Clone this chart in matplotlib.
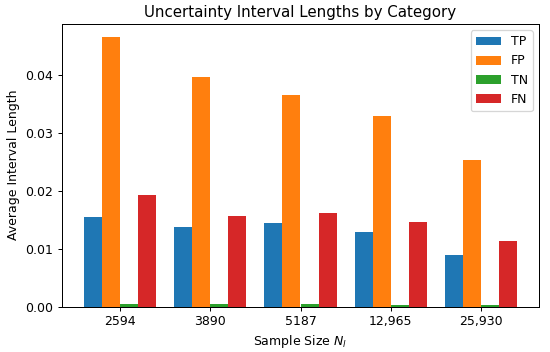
import matplotlib
matplotlib.use("Agg")
import matplotlib.pyplot as plt
import numpy as np

categories = ["2594", "3890", "5187", "12,965", "25,930"]
series_names = ["TP", "FP", "TN", "FN"]
tp = [0.0154, 0.0137, 0.0145, 0.0128, 0.0089]
fp = [0.0465, 0.0396, 0.0366, 0.0329, 0.0254]
tn = [0.0004, 0.0004, 0.0004, 0.0003, 0.0003]
fn = [0.0193, 0.0156, 0.0162, 0.0146, 0.0114]
values = [tp, fp, tn, fn]
colors = ["#1f77b4", "#ff7f0e", "#2ca02c", "#d62728"]

DPI = 90
fig, ax = plt.subplots(figsize=(550 / DPI, 352 / DPI), dpi=DPI)
x = np.arange(len(categories))
w = 0.2
for i, (name, vals) in enumerate(zip(series_names, values)):
    ax.bar(x + (i - 1.5) * w, vals, w, label=name, color=colors[i])

ax.set_xticks(x)
ax.set_xticklabels(categories)
ax.set_xlabel("Sample Size $N_l$")
ax.set_ylabel("Average Interval Length")
ax.set_title("Uncertainty Interval Lengths by Category")
ax.legend(loc="upper right")
fig.subplots_adjust(left=62 / 550, right=539 / 550, top=1 - 24 / 352, bottom=1 - 306.5 / 352)
fig.savefig("out.png", dpi=DPI)
